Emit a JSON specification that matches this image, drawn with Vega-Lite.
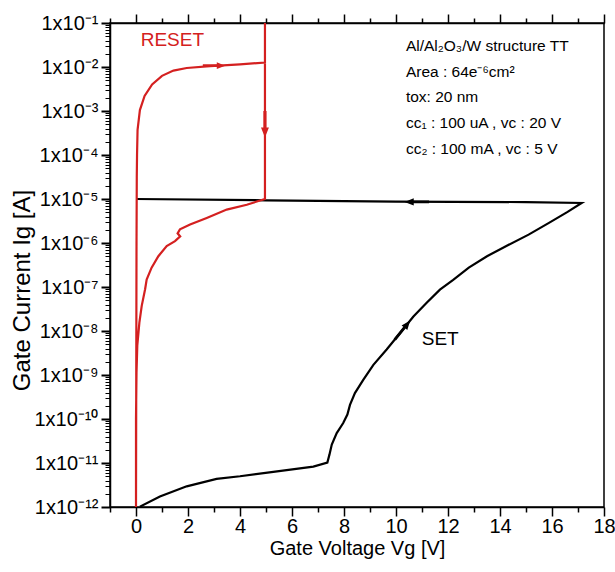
{
  "$schema": "https://vega.github.io/schema/vega-lite/v6.json",
  "width": 494,
  "height": 484,
  "autosize": "none",
  "padding": {"left": 110, "top": 23, "right": 11, "bottom": 65},
  "background": "white",
  "config": {
    "view": {"stroke": "black", "strokeWidth": 1.5},
    "font": "Liberation Sans",
    "axis": {
      "domainColor": "black",
      "domainWidth": 1.5,
      "tickColor": "black",
      "labelColor": "black",
      "titleColor": "black",
      "grid": false,
      "labelFont": "Liberation Sans",
      "titleFont": "Liberation Sans",
      "titleFontWeight": "normal"
    }
  },
  "datasets": {
    "curves": [
      {"series": "SET", "i": 1, "v": 0.15, "ig": 1.02e-12},
      {"series": "SET", "i": 2, "v": 0.92, "ig": 1.74e-12},
      {"series": "SET", "i": 3, "v": 1.95, "ig": 2.95e-12},
      {"series": "SET", "i": 4, "v": 3.1, "ig": 4.37e-12},
      {"series": "SET", "i": 5, "v": 4.0, "ig": 5.0e-12},
      {"series": "SET", "i": 6, "v": 5.28, "ig": 6.3e-12},
      {"series": "SET", "i": 7, "v": 6.82, "ig": 8.3e-12},
      {"series": "SET", "i": 8, "v": 7.36, "ig": 1.02e-11},
      {"series": "SET", "i": 9, "v": 7.44, "ig": 1.55e-11},
      {"series": "SET", "i": 10, "v": 7.53, "ig": 2.63e-11},
      {"series": "SET", "i": 11, "v": 7.72, "ig": 4.79e-11},
      {"series": "SET", "i": 12, "v": 7.97, "ig": 8.1e-11},
      {"series": "SET", "i": 13, "v": 8.13, "ig": 1.26e-10},
      {"series": "SET", "i": 14, "v": 8.23, "ig": 2.09e-10},
      {"series": "SET", "i": 15, "v": 8.42, "ig": 3.89e-10},
      {"series": "SET", "i": 16, "v": 8.74, "ig": 7.76e-10},
      {"series": "SET", "i": 17, "v": 9.13, "ig": 1.7e-9},
      {"series": "SET", "i": 18, "v": 9.64, "ig": 3.8e-9},
      {"series": "SET", "i": 19, "v": 10.15, "ig": 8.91e-9},
      {"series": "SET", "i": 20, "v": 10.67, "ig": 2.14e-8},
      {"series": "SET", "i": 21, "v": 11.18, "ig": 4.37e-8},
      {"series": "SET", "i": 22, "v": 11.69, "ig": 8.71e-8},
      {"series": "SET", "i": 23, "v": 12.2, "ig": 1.45e-7},
      {"series": "SET", "i": 24, "v": 12.8, "ig": 2.75e-7},
      {"series": "SET", "i": 25, "v": 13.5, "ig": 5.0e-7},
      {"series": "SET", "i": 26, "v": 14.3, "ig": 8.9e-7},
      {"series": "SET", "i": 27, "v": 15.1, "ig": 1.55e-6},
      {"series": "SET", "i": 28, "v": 15.9, "ig": 2.9e-6},
      {"series": "SET", "i": 29, "v": 16.6, "ig": 5.1e-6},
      {"series": "SET", "i": 30, "v": 17.14, "ig": 8.13e-6},
      {"series": "SET", "i": 31, "v": 15.0, "ig": 8.51e-6},
      {"series": "SET", "i": 32, "v": 10.0, "ig": 8.71e-6},
      {"series": "SET", "i": 33, "v": 5.0, "ig": 9.33e-6},
      {"series": "SET", "i": 34, "v": 0.0, "ig": 1.0e-5},
      {"series": "RESET", "i": 1, "v": 0.0, "ig": 1e-12},
      {"series": "RESET", "i": 2, "v": 0.01, "ig": 1e-9},
      {"series": "RESET", "i": 3, "v": 0.02, "ig": 1e-6},
      {"series": "RESET", "i": 4, "v": 0.03, "ig": 3.16e-5},
      {"series": "RESET", "i": 5, "v": 0.04, "ig": 1e-4},
      {"series": "RESET", "i": 6, "v": 0.06, "ig": 3.72e-4},
      {"series": "RESET", "i": 7, "v": 0.15, "ig": 1.05e-3},
      {"series": "RESET", "i": 8, "v": 0.33, "ig": 2.2e-3},
      {"series": "RESET", "i": 9, "v": 0.62, "ig": 4.0e-3},
      {"series": "RESET", "i": 10, "v": 1.0, "ig": 6.3e-3},
      {"series": "RESET", "i": 11, "v": 1.44, "ig": 8.3e-3},
      {"series": "RESET", "i": 12, "v": 1.95, "ig": 9.5e-3},
      {"series": "RESET", "i": 13, "v": 2.85, "ig": 1.05e-2},
      {"series": "RESET", "i": 14, "v": 4.0, "ig": 1.15e-2},
      {"series": "RESET", "i": 15, "v": 4.96, "ig": 1.26e-2},
      {"series": "RESET", "i": 16, "v": 4.96, "ig": 0.1},
      {"series": "RESET", "i": 17, "v": 4.96, "ig": 1e-5},
      {"series": "RESET", "i": 18, "v": 4.26, "ig": 7.41e-6},
      {"series": "RESET", "i": 19, "v": 3.49, "ig": 5.75e-6},
      {"series": "RESET", "i": 20, "v": 2.72, "ig": 3.72e-6},
      {"series": "RESET", "i": 21, "v": 2.08, "ig": 2.63e-6},
      {"series": "RESET", "i": 22, "v": 1.69, "ig": 2.04e-6},
      {"series": "RESET", "i": 23, "v": 1.6, "ig": 1.66e-6},
      {"series": "RESET", "i": 24, "v": 1.7, "ig": 1.41e-6},
      {"series": "RESET", "i": 25, "v": 1.5, "ig": 1.1e-6},
      {"series": "RESET", "i": 26, "v": 1.18, "ig": 8.51e-7},
      {"series": "RESET", "i": 27, "v": 0.86, "ig": 5.01e-7},
      {"series": "RESET", "i": 28, "v": 0.6, "ig": 2.75e-7},
      {"series": "RESET", "i": 29, "v": 0.41, "ig": 1.48e-7},
      {"series": "RESET", "i": 30, "v": 0.35, "ig": 8.91e-8},
      {"series": "RESET", "i": 31, "v": 0.22, "ig": 3.72e-8},
      {"series": "RESET", "i": 32, "v": 0.13, "ig": 1.55e-8},
      {"series": "RESET", "i": 33, "v": 0.05, "ig": 4.68e-9},
      {"series": "RESET", "i": 34, "v": 0.02, "ig": 1.15e-9},
      {"series": "RESET", "i": 35, "v": 0.0, "ig": 1e-10},
      {"series": "RESET", "i": 36, "v": 0.0, "ig": 1e-12}
    ],
    "arrows": [
      {"series": "SET", "dir": "left", "v": 10.8, "ig": 8.6e-6},
      {"series": "SET", "dir": "upright", "v": 10.25, "ig": 1.05e-8},
      {"series": "RESET", "dir": "right", "v": 3.0, "ig": 1.07e-2},
      {"series": "RESET", "dir": "down", "v": 4.96, "ig": 5.0e-4}
    ],
    "labels": [
      {"series": "RESET", "text": "RESET", "v": 0.18, "ig": 2.95e-2},
      {"series": "SET", "text": "SET", "v": 10.99, "ig": 4.9e-9}
    ],
    "notes": [
      {"text": "Al/Al₂O₃/W structure TT", "v": 10.38, "ig": 2.34e-2},
      {"text": "Area : 64e⁻⁶cm²", "v": 10.38, "ig": 6.03e-3},
      {"text": "tox: 20 nm", "v": 10.38, "ig": 1.62e-3},
      {"text": "cc₁ : 100 uA , vc : 20 V", "v": 10.38, "ig": 4.17e-4},
      {"text": "cc₂ : 100 mA , vc : 5 V", "v": 10.38, "ig": 1.07e-4}
    ]
  },
  "layer": [
    {
      "data": {"name": "curves"},
      "mark": {"type": "line", "strokeWidth": 2.2, "clip": true, "interpolate": "linear"},
      "encoding": {
        "x": {
          "field": "v", "type": "quantitative",
          "scale": {"domain": [-1, 18], "nice": false, "zero": false},
          "axis": {
            "orient": "bottom",
            "title": "Gate Voltage Vg [V]",
            "titleFontSize": 20,
            "titleBaseline": "alphabetic",
            "titleY": 47,
            "values": [-1,0,1,2,3,4,5,6,7,8,9,10,11,12,13,14,15,16,17,18],
            "labelExpr": "datum.value % 2 === 0 ? datum.label : ''",
            "labelFontSize": 20,
            "labelPadding": 0,
            "labelOverlap": false,
            "labelFlush": false,
            "tickSize": {"condition": {"test": "datum.value % 2 === 0", "value": 9}, "value": 5},
            "tickWidth": 1.5
          }
        },
        "y": {
          "field": "ig", "type": "quantitative",
          "scale": {"type": "log", "domain": [1e-12, 0.1], "nice": false},
          "axis": {
            "orient": "left",
            "title": "Gate Current Ig [A]",
            "titleFontSize": 24,
            "titleAngle": -90,
            "titleAlign": "center",
            "titleBaseline": "middle",
            "titleX": -88,
            "titleY": 267,
            "values": [1e-12,2e-12,3e-12,4e-12,5e-12,6e-12,7e-12,8e-12,9e-12,
                       1e-11,2e-11,3e-11,4e-11,5e-11,6e-11,7e-11,8e-11,9e-11,
                       1e-10,2e-10,3e-10,4e-10,5e-10,6e-10,7e-10,8e-10,9e-10,
                       1e-9,2e-9,3e-9,4e-9,5e-9,6e-9,7e-9,8e-9,9e-9,
                       1e-8,2e-8,3e-8,4e-8,5e-8,6e-8,7e-8,8e-8,9e-8,
                       1e-7,2e-7,3e-7,4e-7,5e-7,6e-7,7e-7,8e-7,9e-7,
                       1e-6,2e-6,3e-6,4e-6,5e-6,6e-6,7e-6,8e-6,9e-6,
                       1e-5,2e-5,3e-5,4e-5,5e-5,6e-5,7e-5,8e-5,9e-5,
                       1e-4,2e-4,3e-4,4e-4,5e-4,6e-4,7e-4,8e-4,9e-4,
                       1e-3,2e-3,3e-3,4e-3,5e-3,6e-3,7e-3,8e-3,9e-3,
                       1e-2,2e-2,3e-2,4e-2,5e-2,6e-2,7e-2,8e-2,9e-2,
                       1e-1],
            "labelExpr": "abs(log(datum.value)/LN10 - round(log(datum.value)/LN10)) < 1e-6 ? '1x10' + ['⁰','⁻¹','⁻²','⁻³','⁻⁴','⁻⁵','⁻⁶','⁻⁷','⁻⁸','⁻⁹','⁻¹⁰','⁻¹¹','⁻¹²'][-round(log(datum.value)/LN10)] : ''",
            "labelFontSize": 20,
            "labelPadding": 3,
            "labelOverlap": false,
            "labelFlush": false,
            "labelBound": false,
            "tickSize": {"condition": {"test": "abs(log(datum.value)/LN10 - round(log(datum.value)/LN10)) < 1e-6", "value": 9}, "value": 5},
            "tickWidth": {"condition": {"test": "abs(log(datum.value)/LN10 - round(log(datum.value)/LN10)) < 1e-6", "value": 2}, "value": 1}
          }
        },
        "color": {
          "field": "series", "type": "nominal",
          "scale": {"domain": ["SET", "RESET"], "range": ["#000000", "#d42020"]},
          "legend": null
        },
        "detail": {"field": "series"},
        "order": {"field": "i", "type": "quantitative"}
      }
    },
    {
      "data": {"name": "arrows"},
      "transform": [{"filter": "datum.dir === 'left'"}],
      "mark": {
        "type": "point", "filled": true, "opacity": 1, "size": 600, "angle": 270,
        "shape": "M0,-1L0.3,-0.25L0.12,-0.25L0.12,1L-0.12,1L-0.12,-0.25L-0.3,-0.25Z"
      },
      "encoding": {
        "x": {
          "field": "v", "type": "quantitative",
          "axis": {
            "orient": "top",
            "title": null,
            "labels": false,
            "values": [-1,0,1,2,3,4,5,6,7,8,9,10,11,12,13,14,15,16,17,18],
            "tickSize": {"condition": {"test": "datum.value % 2 === 0", "value": 9}, "value": 5},
            "tickWidth": 1.5
          }
        },
        "y": {"field": "ig", "type": "quantitative", "axis": null},
        "color": {"field": "series", "type": "nominal", "legend": null}
      }
    },
    {
      "data": {"name": "arrows"},
      "transform": [{"filter": "datum.dir === 'upright'"}],
      "mark": {
        "type": "point", "filled": true, "opacity": 1, "size": 600, "angle": 39,
        "shape": "M0,-1L0.3,-0.25L0.12,-0.25L0.12,1L-0.12,1L-0.12,-0.25L-0.3,-0.25Z"
      },
      "encoding": {
        "x": {"field": "v", "type": "quantitative", "axis": null},
        "y": {"field": "ig", "type": "quantitative", "axis": null},
        "color": {"field": "series", "type": "nominal", "legend": null}
      }
    },
    {
      "data": {"name": "arrows"},
      "transform": [{"filter": "datum.dir === 'right'"}],
      "mark": {
        "type": "point", "filled": true, "opacity": 1, "size": 500, "angle": 90,
        "shape": "M0,-1L0.3,-0.25L0.12,-0.25L0.12,1L-0.12,1L-0.12,-0.25L-0.3,-0.25Z"
      },
      "encoding": {
        "x": {"field": "v", "type": "quantitative", "axis": null},
        "y": {"field": "ig", "type": "quantitative", "axis": null},
        "color": {"field": "series", "type": "nominal", "legend": null}
      }
    },
    {
      "data": {"name": "arrows"},
      "transform": [{"filter": "datum.dir === 'down'"}],
      "mark": {
        "type": "point", "filled": true, "opacity": 1, "size": 700, "angle": 180,
        "shape": "M0,-1L0.3,-0.25L0.12,-0.25L0.12,1L-0.12,1L-0.12,-0.25L-0.3,-0.25Z"
      },
      "encoding": {
        "x": {"field": "v", "type": "quantitative", "axis": null},
        "y": {"field": "ig", "type": "quantitative", "axis": null},
        "color": {"field": "series", "type": "nominal", "legend": null}
      }
    },
    {
      "data": {"name": "labels"},
      "mark": {"type": "text", "align": "left", "baseline": "alphabetic", "fontSize": 19, "font": "Liberation Sans"},
      "encoding": {
        "x": {"field": "v", "type": "quantitative", "axis": null},
        "y": {"field": "ig", "type": "quantitative", "axis": null},
        "text": {"field": "text"},
        "color": {"field": "series", "type": "nominal", "legend": null}
      }
    },
    {
      "data": {"name": "notes"},
      "mark": {"type": "text", "align": "left", "baseline": "alphabetic", "fontSize": 15.5, "font": "Liberation Sans", "color": "black"},
      "encoding": {
        "x": {"field": "v", "type": "quantitative", "axis": null},
        "y": {"field": "ig", "type": "quantitative", "axis": null},
        "text": {"field": "text"}
      }
    }
  ],
  "resolve": {"axis": {"x": "independent", "y": "independent"}}
}
